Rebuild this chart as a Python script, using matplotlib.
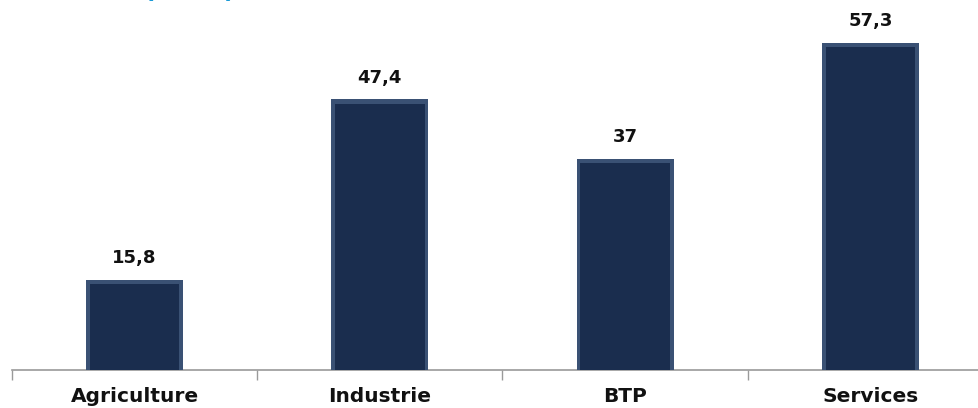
import matplotlib.pyplot as plt
import numpy as np

# sectors and values
sectors = ["Agriculture", "Industrie", "BTP", "Services"]
values = [15.8, 47.4, 37, 57.3]
value_labels = ["15,8", "47,4", "37", "57,3"]

NAVY = "#1a2d4e"
BEVEL = "#3a5174"
AXIS_GREY = "#9a9a9a"
TEXT = "#111111"

plt.rcParams["font.family"] = ["DejaVu Sans"]

fig = plt.figure(figsize=(9.79, 4.08), dpi=100)
ax = fig.add_axes([12 / 979, 38 / 408, 981 / 979, 370 / 408])

x = np.arange(len(sectors))
# bevelled bars: lighter rim with the dark face inset
ax.bar(x, values, width=0.395, color=BEVEL, linewidth=0, zorder=3)
ax.bar(x, np.array(values) - 0.8, width=0.365, color=NAVY, linewidth=0, zorder=4)

for xi, v, lab in zip(x, values, value_labels):
    ax.annotate(lab, (xi, v), xytext=(0, 9), textcoords="offset points",
                ha="center", va="bottom", fontsize=13, fontweight="bold", color=TEXT)

ax.set_xlim(-0.5, 3.5)
ax.set_ylim(0, 370 / 5.71)
ax.set_xticks(np.arange(-0.5, 4, 1.0))
ax.set_xticklabels([])
ax.set_xticks(x, minor=True)
ax.set_xticklabels(sectors, minor=True, fontsize=14.5, fontweight="bold", color=TEXT)
ax.tick_params(axis="x", which="major", direction="out", length=7, width=1, color=AXIS_GREY)
ax.tick_params(axis="x", which="minor", length=0, pad=12)
ax.set_yticks([])
for side in ("top", "right", "left"):
    ax.spines[side].set_visible(False)
ax.spines["bottom"].set_color(AXIS_GREY)
ax.spines["bottom"].set_linewidth(1.2)

# heading sits above the top edge, only its lower part shows
fig.text(0.194, 1.004, "(en %)", color="#1a9ad6", fontsize=18, fontweight="bold",
         ha="center", va="baseline")

fig.savefig("out.png", dpi=100)
